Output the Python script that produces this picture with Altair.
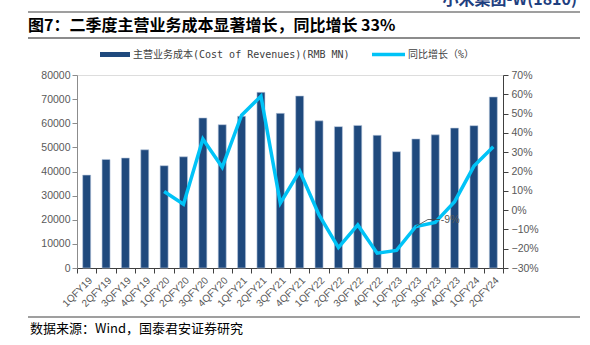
import altair as alt
import pandas as pd

quarters = ["1QFY19", "2QFY19", "3QFY19", "4QFY19", "1QFY20", "2QFY20", "3QFY20", "4QFY20",
            "1QFY21", "2QFY21", "3QFY21", "4QFY21", "1QFY22", "2QFY22", "3QFY22", "4QFY22",
            "1QFY23", "2QFY23", "3QFY23", "4QFY23", "1QFY24", "2QFY24"]
cost = [38500, 45000, 45600, 49000, 42400, 46100, 62200, 59400, 62900, 72800, 64100, 71300,
        61000, 58600, 59100, 55000, 48200, 53500, 55200, 58000, 59000, 70900]
yoy_pct = [None, None, None, None, 9.6, 3.0, 36.8, 22.2, 49.2, 59.0, 3.6, 20.2,
           -2.5, -19.4, -7.7, -22.3, -20.9, -8.5, -6.4, 4.4, 22.8, 32.8]
left_ticks = list(range(0, 80001, 10000))
right_ticks = list(range(-30, 71, 10))

ann_q = ["2QFY23"]
ann_v = [-8.5]
ann_label = ["-9%"]

NAVY = "#1F497D"
CYAN = "#00C3F7"
LABEL_FONT = "Liberation Sans"
CJK = "Noto Sans CJK SC"
W, H = 426, 193

df = pd.DataFrame({"q": quarters, "cost": cost, "yoy": yoy_pct})
ann = pd.DataFrame({"q": ann_q, "yoy": ann_v, "label": ann_label})
one = pd.DataFrame({"d": [0]})

xscale = alt.Scale(domain=quarters, paddingInner=0, paddingOuter=0)
xaxis = alt.Axis(title=None, labelAngle=-45, labelFont=LABEL_FONT, labelFontSize=10,
                 labelColor="#595959", tickBand="extent", tickSize=5, tickColor="#404040",
                 domainColor="#404040", labelPadding=2, labelAlign="right", labelBaseline="top",
                 labelOverlap=False)
X = alt.X("q:N", sort=quarters, scale=xscale, axis=xaxis)

bars = alt.Chart(df).mark_bar(width=8, color=NAVY, stroke="#b9c8dd", strokeWidth=0.6).encode(
    x=X,
    y=alt.Y("cost:Q", scale=alt.Scale(domain=[0, 80000], nice=False),
            axis=alt.Axis(title=None, values=left_ticks, format="d", grid=False,
                          domainColor="#8c8c8c", tickColor="#8c8c8c", tickSize=5,
                          labelPadding=2, labelFont=LABEL_FONT, labelFontSize=10.5,
                          labelColor="#595959", labelOverlap=False)),
)

yoy_scale = alt.Scale(domain=[-30, 70], nice=False)
yoy_axis = alt.Axis(title=None, orient="right", values=right_ticks,
                    labelExpr="replace(datum.value + '%', '-', '−')",
                    grid=False, domainColor="#404040", tickColor="#404040", tickSize=5,
                    labelPadding=3, labelFont=LABEL_FONT, labelFontSize=10.5,
                    labelColor="#595959", labelOverlap=False, labelBound=False,
                    labelFlush=False)
Y2 = alt.Y("yoy:Q", scale=yoy_scale, axis=yoy_axis)

line = alt.Chart(df).transform_filter("isValid(datum.yoy)").mark_line(
    color=CYAN, strokeWidth=3.5).encode(x=X, y=Y2)
ann_text = alt.Chart(ann).mark_text(align="left", baseline="middle", dx=25, dy=-7,
                                    font=LABEL_FONT, fontSize=10.5, color="#595959").encode(
    x=X, y=Y2, text="label:N")
lead1 = alt.Chart(ann).mark_rule(color="#404040", strokeWidth=0.8, x2Offset=12, y2Offset=-7).encode(
    x=X, x2="q:N", y=Y2, y2="yoy:Q")
lead2 = alt.Chart(ann).mark_rule(color="#404040", strokeWidth=0.8, xOffset=12, x2Offset=24,
                                 yOffset=-7, y2Offset=-7).encode(
    x=X, x2="q:N", y=Y2, y2="yoy:Q")
line_group = alt.layer(line, lead1, lead2, ann_text)


def text_at(txt, x, y, **kw):
    return alt.Chart(one).mark_text(text=txt, **kw).encode(x=alt.value(x), y=alt.value(y))


def hrule(x1, x2, y, color, width):
    return alt.Chart(one).mark_rule(color=color, strokeWidth=width).encode(
        x=alt.value(x1), x2=alt.value(x2), y=alt.value(y))


header = text_at("小米集团-W(1810)", 500, -70, align="right", baseline="alphabetic",
                 font=CJK, fontSize=16, fontWeight="bold", color="#1F3F7F")
header_line = hrule(-49, 503, -63, "#404040", 1.2)
title = text_at("图7：二季度主营业务成本显著增长，同比增长 33%", -49, -44, align="left",
                baseline="alphabetic", font=CJK, fontSize=16, fontWeight="bold", color="#000000")
title_line = hrule(-49, 503, -37, "#8c8c8c", 2)

leg_bar = alt.Chart(one).mark_rule(color=NAVY, strokeWidth=5).encode(
    x=alt.value(23), x2=alt.value(53), y=alt.value(-20.5))
leg_bar_txt = text_at("主营业务成本(Cost of Revenues)(RMB MN)", 56, -20, align="left",
                      baseline="middle", font="DejaVu Sans Mono, Noto Sans CJK SC",
                      fontSize=10, color="#404040")
leg_line = alt.Chart(one).mark_rule(color=CYAN, strokeWidth=3.5).encode(
    x=alt.value(295), x2=alt.value(328), y=alt.value(-20.5))
leg_line_txt = text_at("同比增长（%）", 331, -20, align="left", baseline="middle",
                       font="DejaVu Sans Mono, Noto Sans CJK SC", fontSize=10, color="#404040")

src_line = hrule(-49, 503, 242, "#404040", 1.2)
src = text_at("数据来源：Wind，国泰君安证券研究", -47, 258, align="left", baseline="alphabetic",
              font=CJK, fontSize=13, color="#000000")

chart = alt.layer(
    bars, line_group,
    header, header_line, title, title_line,
    leg_bar, leg_bar_txt, leg_line, leg_line_txt,
    src_line, src,
).resolve_scale(y="independent").properties(
    width=W, height=H,
    padding={"left": 77, "top": 75, "right": 87, "bottom": 77},
    autosize=alt.AutoSizeParams(type="none"),
).configure_view(stroke=None).configure(background="white")

chart.save("out.html", embed_options={"renderer": "svg", "actions": False})
